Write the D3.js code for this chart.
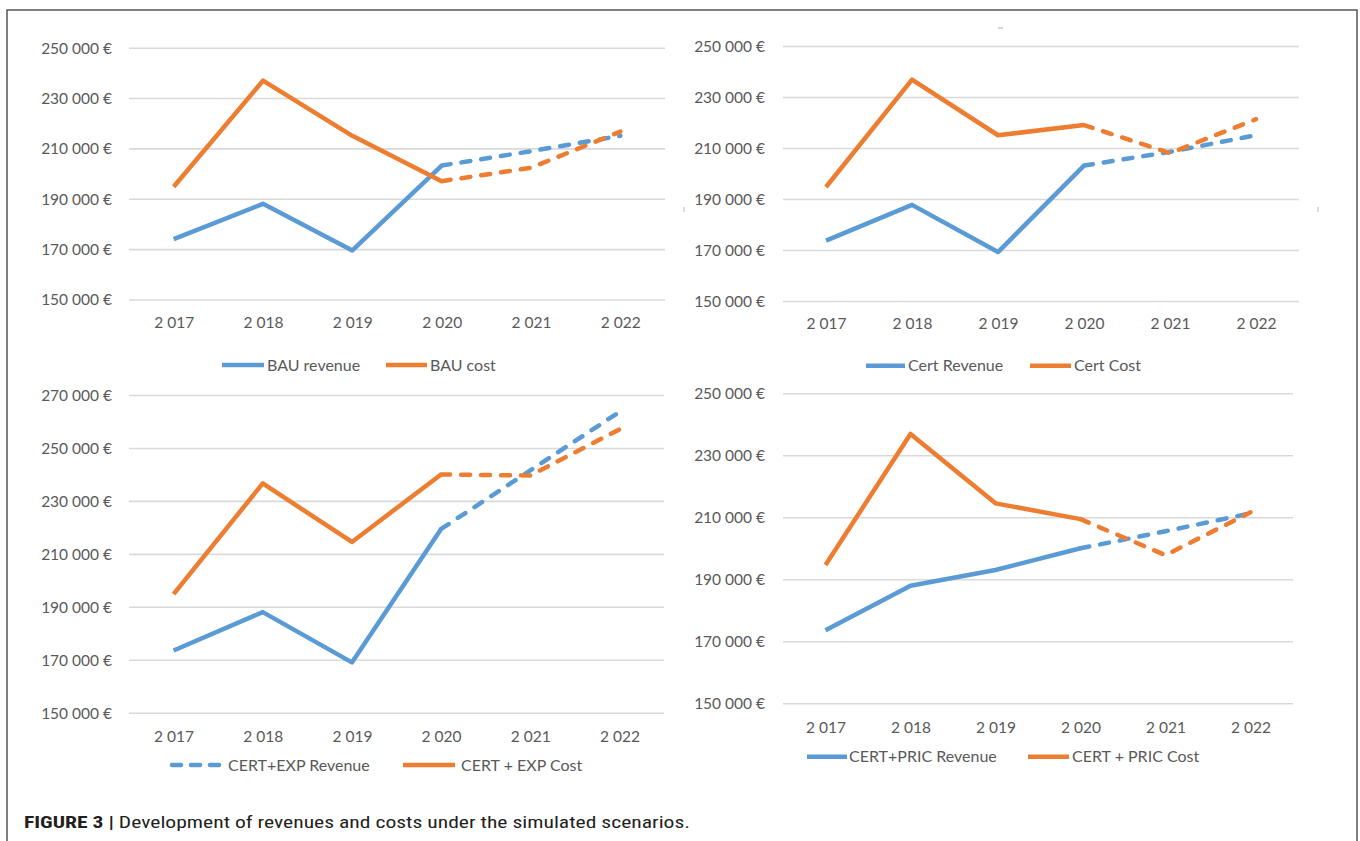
<!DOCTYPE html>
<html>
<head>
<meta charset="utf-8">
<script src="https://cdn.jsdelivr.net/npm/d3@7"></script>
<style>
  body { margin: 0; background: #fff; }
  svg { display: block; }
  .tick-label { font-family: Lato, "Open Sans", sans-serif; font-size: 15.5px; fill: #595959; }
  .legend-label { font-family: Lato, "Open Sans", sans-serif; font-size: 16px; fill: #595959; }
</style>
</head>
<body>
<div id="vis"></div>
<script>
// years on the x axis
var years = ["2 017", "2 018", "2 019", "2 020", "2 021", "2 022"];

// BAU scenario
var bauRevenue = [174000, 188000, 169500, 203200, 208900, 215000];
var bauCost = [194800, 236900, 215000, 197000, 202300, 216700];

// Cert scenario
var certRevenue = [173700, 187700, 169200, 203100, 208500, 215000];
var certCost = [194700, 236800, 215000, 219000, 208000, 221300];

// CERT + EXP scenario
var expRevenue = [173500, 188000, 169000, 219400, 241500, 263600];
var expCost = [194800, 236600, 214500, 240000, 239600, 257000];

// CERT + PRIC scenario
var pricRevenue = [173600, 187900, 193000, 200000, 205500, 211300];
var pricCost = [194600, 236900, 214500, 209400, 197800, 211600];

var ticksLow = [150000, 170000, 190000, 210000, 230000, 250000];
var ticksHigh = [150000, 170000, 190000, 210000, 230000, 250000, 270000];

var blue = "#5b9bd5", orange = "#ed7d31";

var panels = [
  { x0: 129, x1: 665, yBottom: 299.5, yTop: 47.7, max: 250000, ticks: ticksLow, labelX: 112, xLabelY: 323, legendY: 365,
    series: [{ name: "BAU revenue", values: bauRevenue, color: blue }, { name: "BAU cost", values: bauCost, color: orange }],
    legend: [{ x0: 222, x1: 264, tx: 267 }, { x0: 386, x1: 427, tx: 430 }] },
  { x0: 783, x1: 1299, yBottom: 301, yTop: 46, max: 250000, ticks: ticksLow, labelX: 765, xLabelY: 324, legendY: 365.7,
    series: [{ name: "Cert Revenue", values: certRevenue, color: blue }, { name: "Cert Cost", values: certCost, color: orange }],
    legend: [{ x0: 866, x1: 905, tx: 908 }, { x0: 1030, x1: 1071, tx: 1074 }] },
  { x0: 129, x1: 664, yBottom: 712.7, yTop: 395, max: 270000, ticks: ticksHigh, labelX: 112, xLabelY: 736.7, legendY: 765,
    series: [{ name: "CERT+EXP Revenue", values: expRevenue, color: blue, legendDash: true }, { name: "CERT + EXP Cost", values: expCost, color: orange }],
    legend: [{ x0: 172, x1: 219, tx: 228 }, { x0: 403, x1: 455, tx: 461 }] },
  { x0: 783, x1: 1293, yBottom: 703.3, yTop: 393.3, max: 250000, ticks: ticksLow, labelX: 765, xLabelY: 727.7, legendY: 756.7,
    series: [{ name: "CERT+PRIC Revenue", values: pricRevenue, color: blue }, { name: "CERT + PRIC Cost", values: pricCost, color: orange }],
    legend: [{ x0: 807, x1: 847, tx: 849 }, { x0: 1028, x1: 1069, tx: 1072 }] }
];

var fmt = function(d) { return d3.format(",")(d).replace(/,/g, " ") + " €"; };

var svg = d3.select("#vis")
  .append("svg")
  .attr("width", 1360)
  .attr("height", 841);

// outer frame
svg.append("rect")
  .attr("x", 7).attr("y", 10)
  .attr("width", 1350).attr("height", 840)
  .attr("fill", "#fff")
  .attr("stroke", "#555")
  .attr("stroke-width", 1.5);

panels.forEach(function(p) {
  var x = d3.scalePoint()
    .domain(years)
    .range([p.x0, p.x1])
    .padding(0.5);
  var y = d3.scaleLinear()
    .domain([150000, p.max])
    .range([p.yBottom, p.yTop]);

  var g = svg.append("g");

  // gridlines + y labels
  var y_axis = d3.axisLeft(y)
    .tickValues(p.ticks)
    .tickSize(-(p.x1 - p.x0))
    .tickFormat(fmt);
  var ya = g.append("g")
    .attr("transform", "translate(" + p.x0 + ",0)")
    .call(y_axis);
  ya.select(".domain").remove();
  ya.selectAll("line").attr("stroke", "#d9d9d9").attr("stroke-width", 1.6);
  ya.selectAll("text")
    .attr("class", "tick-label")
    .attr("x", p.labelX - p.x0)
    .attr("dy", "0.35em")
    .attr("fill", null);

  // x labels
  var x_axis = d3.axisBottom(x).tickSize(0);
  var xa = g.append("g")
    .attr("transform", "translate(0," + p.xLabelY + ")")
    .call(x_axis);
  xa.select(".domain").remove();
  xa.selectAll("text")
    .attr("class", "tick-label")
    .attr("y", 0)
    .attr("dy", "0.35em")
    .attr("fill", null);

  // series: solid for 2017-2020, dashed for 2020-2022
  p.series.forEach(function(s) {
    var pts = s.values.map(function(v, i) { return [x(years[i]), y(v)]; });
    var line = d3.line();
    g.append("path")
      .attr("d", line(pts.slice(0, 4)))
      .attr("fill", "none")
      .attr("stroke", s.color)
      .attr("stroke-width", 4.5)
      .attr("stroke-linejoin", "round");
    g.append("path")
      .attr("d", line(pts.slice(3)))
      .attr("fill", "none")
      .attr("stroke", s.color)
      .attr("stroke-width", 4.5)
      .attr("stroke-linejoin", "round")
      .attr("stroke-linecap", "round")
      .attr("stroke-dasharray", "9,11");
  });

  // legend
  p.series.forEach(function(s, i) {
    var L = p.legend[i];
    g.append("line")
      .attr("x1", L.x0).attr("x2", L.x1)
      .attr("y1", p.legendY).attr("y2", p.legendY)
      .attr("stroke", s.color)
      .attr("stroke-width", 4.5)
      .attr("stroke-linecap", s.legendDash ? "round" : "butt")
      .attr("stroke-dasharray", s.legendDash ? "9,10" : null);
    g.append("text")
      .attr("class", "legend-label")
      .attr("x", L.tx)
      .attr("y", p.legendY)
      .attr("dy", "0.35em")
      .text(s.name);
  });
});

// small stray marks from the source figure
svg.append("line").attr("x1", 998).attr("x2", 1003).attr("y1", 28).attr("y2", 28)
  .attr("stroke", "#bbb").attr("stroke-width", 1.2);
svg.append("line").attr("x1", 684).attr("x2", 684).attr("y1", 207).attr("y2", 212)
  .attr("stroke", "#bbb").attr("stroke-width", 1);
svg.append("line").attr("x1", 1318).attr("x2", 1318).attr("y1", 207).attr("y2", 212)
  .attr("stroke", "#bbb").attr("stroke-width", 1);

// caption
var cap = svg.append("text")
  .attr("x", 24)
  .attr("y", 828)
  .attr("textLength", 666)
  .attr("lengthAdjust", "spacingAndGlyphs")
  .style("font-family", "'Liberation Sans Narrow', 'Roboto Condensed', Roboto, Arial, sans-serif")
  .style("font-size", "17px")
  .attr("fill", "#231f20");
cap.append("tspan").attr("font-weight", "bold").text("FIGURE 3 | ");
cap.append("tspan").text("Development of revenues and costs under the simulated scenarios.");
</script>
</body>
</html>
